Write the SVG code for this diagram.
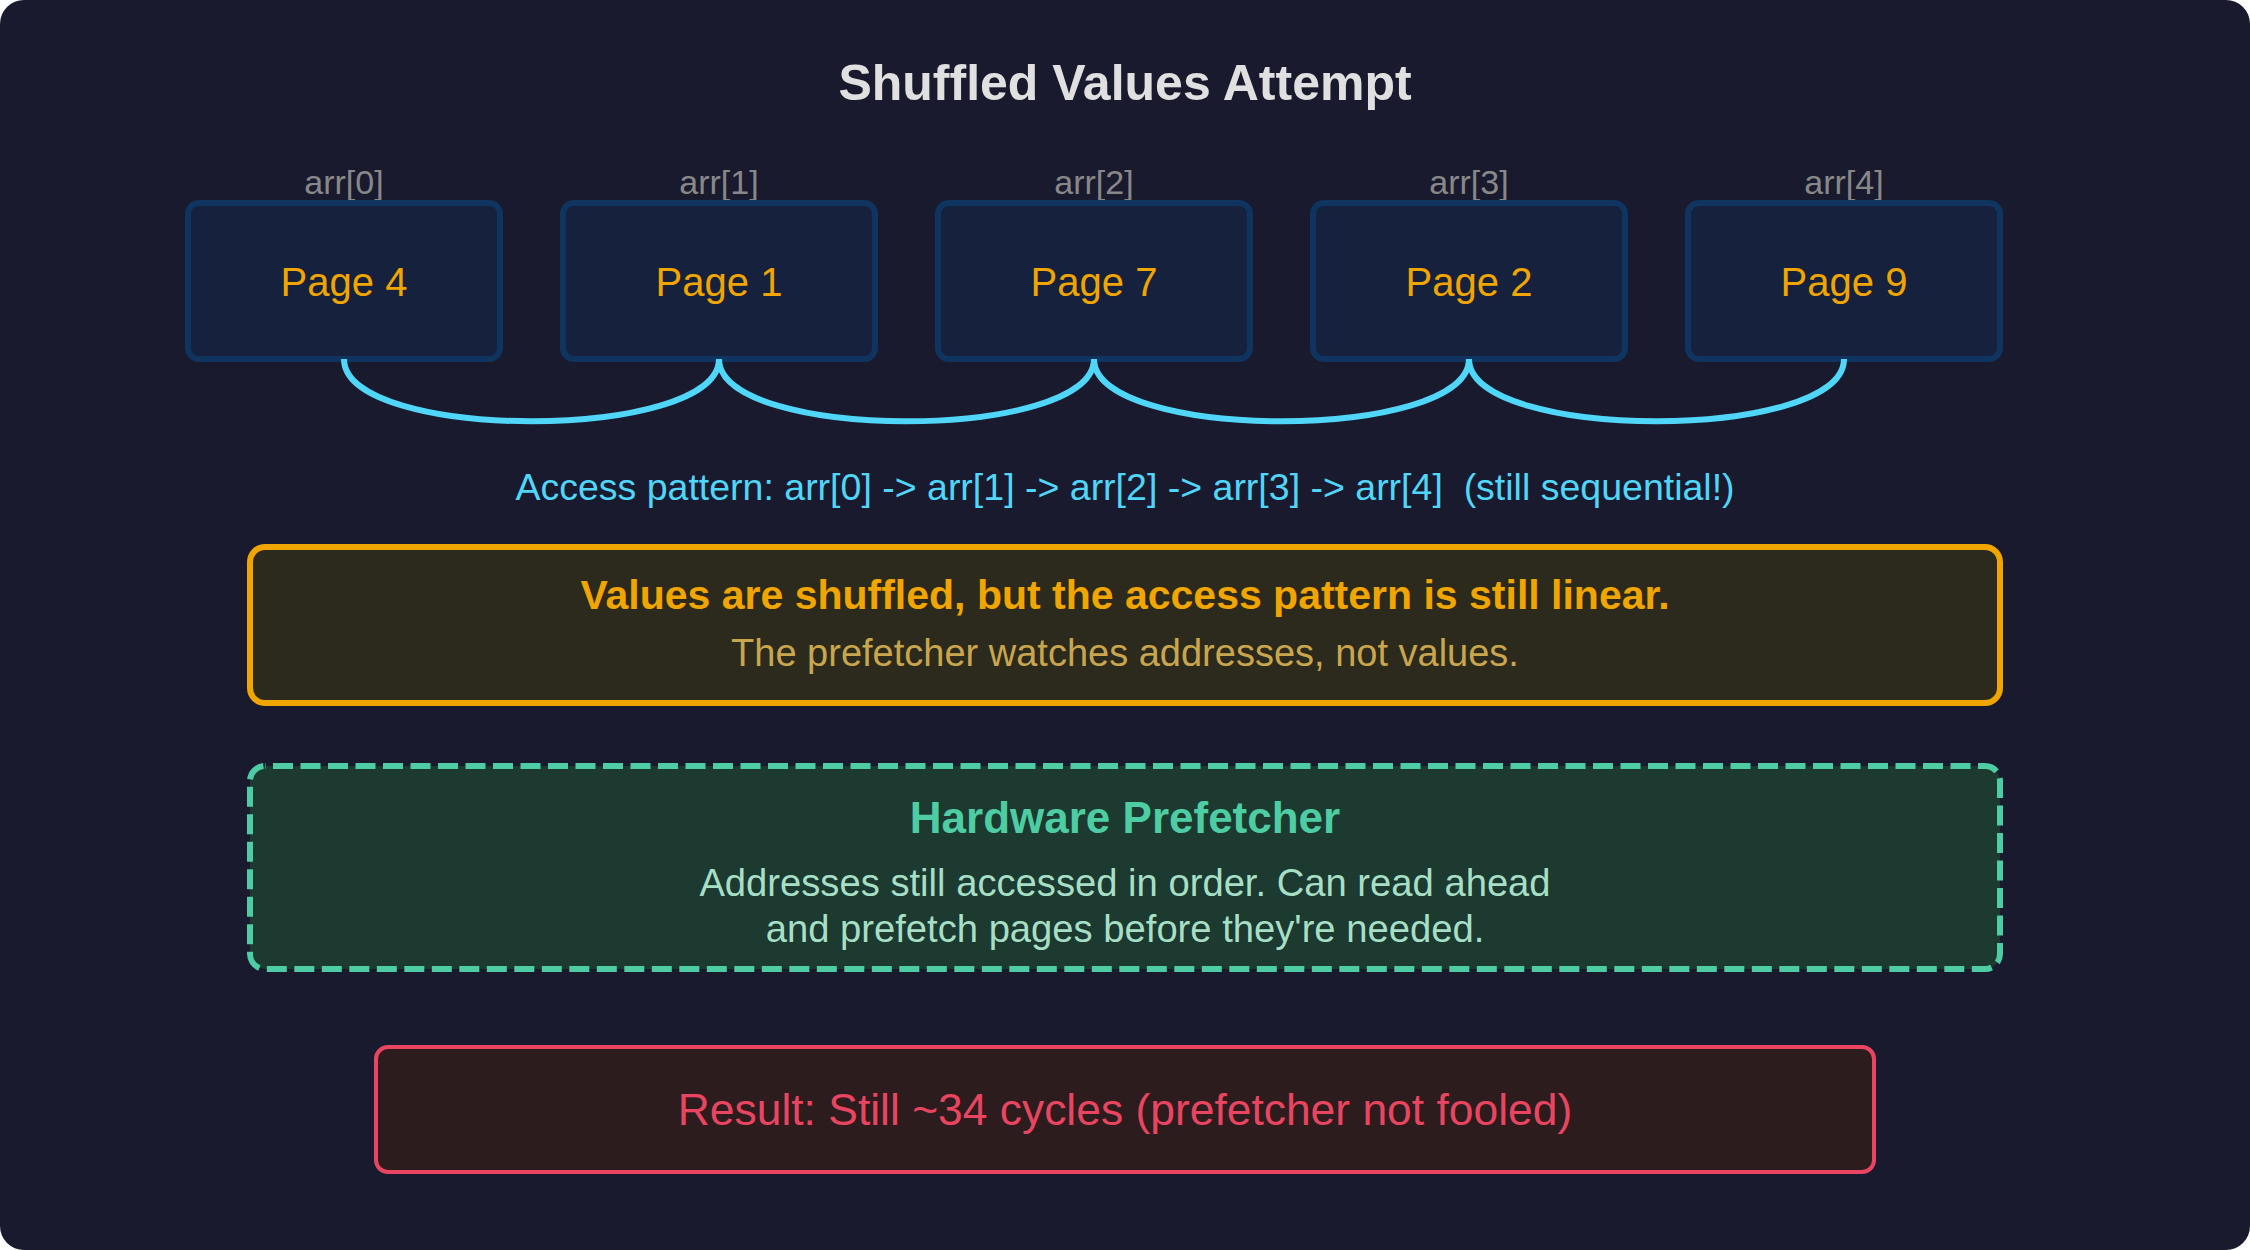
<svg xmlns="http://www.w3.org/2000/svg" width="2250" height="1250" viewBox="0 0 2250 1250">
  <style>
    text { font-family: "Liberation Sans", Arial, sans-serif; text-anchor: middle; }
    .title { font-size: 50px; font-weight: bold; fill: #e0e0e0; }
    .idx { font-size: 34px; fill: #888888; }
    .page rect { fill: #16213e; stroke: #0f3460; stroke-width: 6; }
    .page text { font-size: 40px; fill: #f0a500; }
    .conn { fill: none; stroke: #50d6f8; stroke-width: 6; }
    .access { font-size: 37.5px; fill: #50d6f8; }
    .warn-box { fill: #2b2a1d; stroke: #f0a500; stroke-width: 6; }
    .warn-h { font-size: 41px; font-weight: bold; fill: #f0a500; }
    .warn-s { font-size: 38px; fill: #c9a64e; }
    .pf-box { fill: #1c3a2f; stroke: #4ecca3; stroke-width: 6; stroke-dasharray: 20 7.5; stroke-dashoffset: 19.5; }
    .pf-h { font-size: 44px; font-weight: bold; fill: #4ecca3; }
    .pf-s { font-size: 38.2px; fill: #a6dfc6; }
    .res-box { fill: #2c1c1e; stroke: #e94560; stroke-width: 4; }
    .res-t { font-size: 44.4px; fill: #e94560; }
  </style>
  <rect x="0" y="0" width="2250" height="1250" rx="24" fill="#1a1a2e"/>
  <text class="title" x="1125" y="100">Shuffled Values Attempt</text>

  <g id="page-arr0" class="page">
    <text class="idx" x="344" y="194" style="font-size:34px;fill:#888888">arr[0]</text>
    <rect x="188" y="203" width="312" height="156" rx="11"/>
    <text x="344" y="296">Page 4</text>
  </g>
  <g id="page-arr1" class="page">
    <text class="idx" x="719" y="194" style="font-size:34px;fill:#888888">arr[1]</text>
    <rect x="563" y="203" width="312" height="156" rx="11"/>
    <text x="719" y="296">Page 1</text>
  </g>
  <g id="page-arr2" class="page">
    <text class="idx" x="1094" y="194" style="font-size:34px;fill:#888888">arr[2]</text>
    <rect x="938" y="203" width="312" height="156" rx="11"/>
    <text x="1094" y="296">Page 7</text>
  </g>
  <g id="page-arr3" class="page">
    <text class="idx" x="1469" y="194" style="font-size:34px;fill:#888888">arr[3]</text>
    <rect x="1313" y="203" width="312" height="156" rx="11"/>
    <text x="1469" y="296">Page 2</text>
  </g>
  <g id="page-arr4" class="page">
    <text class="idx" x="1844" y="194" style="font-size:34px;fill:#888888">arr[4]</text>
    <rect x="1688" y="203" width="312" height="156" rx="11"/>
    <text x="1844" y="296">Page 9</text>
  </g>

  <g id="connectors">
    <path class="conn" d="M344 359 C344 442 719 442 719 359"/>
    <path class="conn" d="M719 359 C719 442 1094 442 1094 359"/>
    <path class="conn" d="M1094 359 C1094 442 1469 442 1469 359"/>
    <path class="conn" d="M1469 359 C1469 442 1844 442 1844 359"/>
  </g>

  <text id="access-pattern" class="access" x="1125" y="500" xml:space="preserve">Access pattern: arr[0] -&gt; arr[1] -&gt; arr[2] -&gt; arr[3] -&gt; arr[4]  (still sequential!)</text>

  <g id="warning">
    <rect class="warn-box" x="250" y="547" width="1750" height="156" rx="15"/>
    <text class="warn-h" x="1125" y="609">Values are shuffled, but the access pattern is still linear.</text>
    <text class="warn-s" x="1125" y="666">The prefetcher watches addresses, not values.</text>
  </g>

  <g id="prefetcher">
    <rect class="pf-box" x="250" y="766" width="1750" height="203" rx="15"/>
    <text class="pf-h" x="1125" y="833">Hardware Prefetcher</text>
    <text class="pf-s" x="1125" y="896">Addresses still accessed in order. Can read ahead</text>
    <text class="pf-s" x="1125" y="942">and prefetch pages before they're needed.</text>
  </g>

  <g id="result">
    <rect class="res-box" x="376" y="1047" width="1498" height="125" rx="12"/>
    <text class="res-t" x="1125" y="1125">Result: Still ~34 cycles (prefetcher not fooled)</text>
  </g>
</svg>
